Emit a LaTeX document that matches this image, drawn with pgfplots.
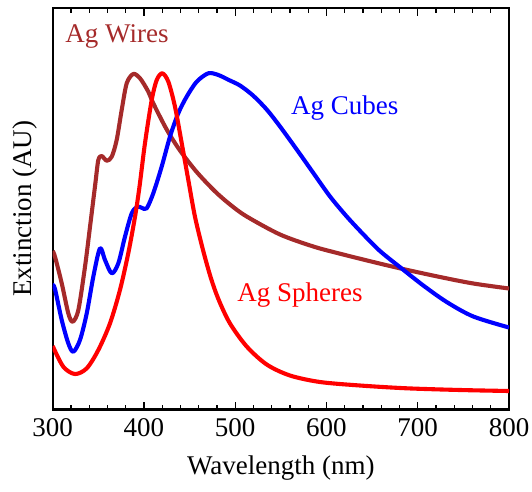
\documentclass[border=0pt]{standalone}
\usepackage{fontspec}
\setmainfont{Liberation Serif}
\usepackage{pgfplots}
\pgfplotsset{compat=1.18}
\definecolor{wire}{RGB}{165,42,42}
\newcommand{\bigf}{\fontsize{27}{32}\selectfont}
\begin{document}
\begin{tikzpicture}
\begin{axis}[
  scale only axis, width=456.3pt, height=401.5pt,
  xmin=300, xmax=800, ymin=0, ymax=401.5,
  xtick={300,400,...,800}, minor x tick num=4, ytick=\empty,
  tick align=inside, xtick pos=both,
  major tick length=8pt, minor tick length=5pt,
  every tick/.style={black, line width=1.2pt},
  axis line style={line width=2.2pt},
  /pgf/number format/assume math mode=true,
  xticklabel style={font=\bigf, yshift=-6pt},
  xlabel={Wavelength (nm)}, ylabel={Extinction (AU)},
  xlabel style={font=\bigf, at={(axis description cs:0.5,-0.1457)}, anchor=center},
  ylabel style={font=\bigf, at={(axis description cs:-0.0607,0.5)}, anchor=center},
  every axis plot/.append style={line width=4.1pt, smooth, tension=0.5, line join=round},
]
\addplot[wire] coordinates {
(300,158.5)(302.5,152.8)(309.9,126.2)(317.1,96.2)(321.9,87.8)(328.1,99.5)(335.4,142.8)(340.9,182.8)(344.5,209.5)(347,228)(350,249.5)(353.7,253.5)(359.2,248.8)(364.7,252.8)(370.1,269.5)(375.6,299.5)(381.1,326.2)(388.3,335.5)(395.7,331.2)(404.8,317.8)(410.2,306.2)(424.9,280)(439.5,259)(457.8,237.5)(478,218)(495,204.5)(512.6,193)(549.1,175)(585.6,163)(614.8,155.8)(651.3,147.5)(682.4,140.8)(724.4,132.5)(760.9,126)(800,121)
};
\addplot[blue] coordinates {
(300,124.5)(302.5,120.5)(309.9,89.5)(317.1,66.2)(322.6,57.8)(329.9,69.5)(337.3,96.2)(344.5,132.8)(351.8,161.2)(357.3,149.5)(364.7,136.2)(371.9,146.2)(379.2,172.8)(386.6,196.2)(392.9,202.8)(398,201.5)(403,201.2)(410.2,216.2)(419.4,242.8)(428.5,272.8)(437.6,296.2)(446.8,312.8)(457.8,327.8)(470.5,336.2)(481.5,334.5)(493,329.5)(505.2,324)(519.5,314)(534.5,300)(549.1,283)(567.4,260)(585.6,236.5)(603.9,213)(622.2,193)(640,175.5)(658.6,158.5)(682.4,141)(706.1,124)(731.7,107.5)(760.9,93)(800,82)
};
\addplot[red] coordinates {
(300,63.5)(311.6,42.8)(324.4,35.5)(337.3,41.2)(350,59.5)(362.8,86.2)(373.7,119.5)(382.8,156.2)(390.2,192.8)(395,222)(401.1,266.2)(408.5,309.5)(414,329.5)(420.1,336.2)(426.7,327.8)(434,302.8)(441.4,266.2)(448.6,229.5)(455.9,192.8)(464.7,159.5)(473.5,131)(482.2,109)(494.3,86)(512.6,63)(534.5,45)(560,34)(592.9,27.5)(636.7,24)(687.9,21.2)(746.3,19.5)(800,18.5)
};
\node[text=wire, font=\bigf] at (axis cs:370.5,373.5) {Ag Wires};
\node[text=blue, font=\bigf] at (axis cs:620,301.5) {Ag Cubes};
\node[text=red, font=\bigf] at (axis cs:571,114.5) {Ag Spheres};
\end{axis}
\pgfresetboundingbox
\useasboundingbox (-52.7pt,-81.5pt) rectangle (479.3pt,409.5pt);
\end{tikzpicture}
\end{document}
